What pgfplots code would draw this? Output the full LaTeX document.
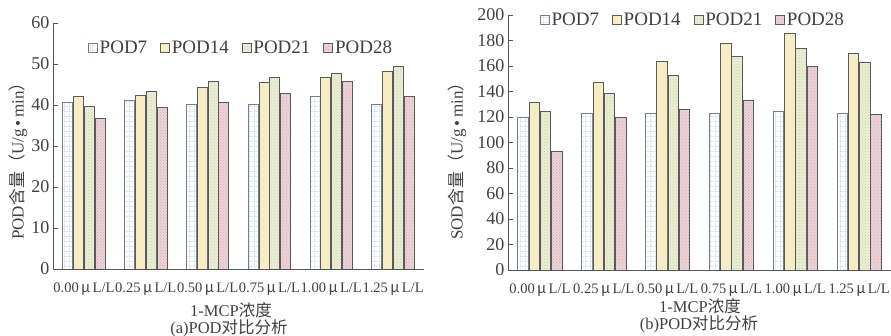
\documentclass[border=0pt]{standalone}
\usepackage{fontspec}
\setmainfont{Liberation Serif}
\newfontfamily\cjk{Noto Sans CJK SC}
\usepackage{pgfplots}
\usepackage{pgfplotstable}
\pgfplotsset{compat=1.18}
\usetikzlibrary{patterns}

\pgfdeclarepatternformonly[\gridstep]{biggrid}{\pgfpointorigin}{\pgfpoint{\gridstep}{\gridstep}}{\pgfpoint{\gridstep}{\gridstep}}{%
  \pgfsetlinewidth{0.7pt}%
  \pgfpathmoveto{\pgfpoint{0pt}{0pt}}\pgfpathlineto{\pgfpoint{\gridstep}{0pt}}%
  \pgfpathmoveto{\pgfpoint{0pt}{0pt}}\pgfpathlineto{\pgfpoint{0pt}{\gridstep}}%
  \pgfusepath{stroke}}
\def\gridstep{4.6pt}

\definecolor{txt}{HTML}{404040}
\definecolor{axc}{HTML}{555555}
\definecolor{outl}{HTML}{5A5A5A}
\definecolor{b7}{HTML}{A9BFE3}
\definecolor{o7}{HTML}{6F7F9A}
\definecolor{f14}{HTML}{F6EDC4}
\definecolor{f21}{HTML}{ECEFD6}
\definecolor{p21}{HTML}{C9D0A8}
\definecolor{f28}{HTML}{EDD3D8}
\definecolor{p28}{HTML}{D6AEB6}

\pgfplotstableread{
x p7 p14 p21 p28
0 40.7 42.0 39.7 36.7
1 41.0 42.3 43.2 39.3
2 40.1 44.4 45.7 40.6
3 40.1 45.4 46.7 42.9
4 42.0 46.8 47.8 45.8
5 40.2 48.3 49.4 42.0
}\podA

\pgfplotstableread{
x p7 p14 p21 p28
0 120.0 131.2 124.4 93.0
1 122.6 147.2 138.3 119.7
2 122.9 163.7 152.4 126.3
3 122.6 177.8 167.6 133.1
4 124.4 185.9 173.6 159.5
5 122.9 170.2 163.1 121.8
}\podB

\pgfplotsset{
  common/.style={
    scale only axis,
    anchor=south west,
    ybar,
    axis lines=left,
    axis line style={draw=axc, line width=0.8pt, -},
    tick style={draw=axc, line width=0.8pt},
    major tick length=5pt,
    tick align=inside,
    xmin=-0.5, xmax=5.5,
    ymin=0,
    /pgf/number format/assume math mode=true,
    xtick={0,1,2,3,4,5},
    x tick style={draw=none},
    extra x ticks={0.5,1.5,2.5,3.5,4.5,5.5},
    extra x tick labels={},
    extra x tick style={tick style={draw=axc, line width=0.8pt}},
    xticklabels={0.00\,{\cjk μ}\,L/L,0.25\,{\cjk μ}\,L/L,0.50\,{\cjk μ}\,L/L,0.75\,{\cjk μ}\,L/L,1.00\,{\cjk μ}\,L/L,1.25\,{\cjk μ}\,L/L},
    xticklabel style={font=\fontsize{14.5}{14.5}\selectfont, text=txt, yshift=-10pt},
    yticklabel style={font=\fontsize{18}{18}\selectfont, text=txt},
    ylabel style={font=\fontsize{17}{17}\selectfont, text=txt},
    legend style={draw=none, fill=none, font=\fontsize{19}{19}\selectfont, text=txt,
      legend columns=4, /tikz/every even column/.append style={column sep=11pt},
      anchor=center},
    legend image code/.code={\draw[#1, line width=0.6pt] (0pt,-4pt) rectangle (9pt,5pt);},
  },
  s7/.style={draw=o7, line width=0.8pt, fill=white, postaction={pattern=biggrid, pattern color=b7}},
  s14/.style={draw=outl, line width=0.8pt, fill=f14},
  s21/.style={draw=outl, line width=0.8pt, fill=f21, postaction={pattern=crosshatch dots, pattern color=p21}},
  s28/.style={draw=outl, line width=0.8pt, fill=f28, postaction={pattern=crosshatch dots, pattern color=p28}},
}

\begin{document}
\begin{tikzpicture}
\useasboundingbox (0pt,0pt) rectangle (891pt,336pt);
\begin{axis}[common,
  at={(53pt,67pt)}, width=371pt, height=246pt,
  ymax=60, ytick={0,10,...,60},
  bar width=10pt,
  ylabel={POD{\cjk 含量（}U/g\,•\,min{\cjk ）}},
  ylabel style={at={(axis description cs:-0.094,0.455)}, anchor=center},
  legend style={at={(axis description cs:0.507,0.898)}},
]
\addplot[s7, bar shift=-16.2pt] table[x=x,y=p7]{\podA};
\addplot[s14, bar shift=-5.4pt] table[x=x,y=p14]{\podA};
\addplot[s21, bar shift=5.4pt] table[x=x,y=p21]{\podA};
\addplot[s28, bar shift=16.2pt] table[x=x,y=p28]{\podA};
\legend{POD7,POD14,POD21,POD28}
\end{axis}

\begin{axis}[common,
  at={(508pt,66pt)}, width=383pt, height=255pt,
  ymax=200, ytick={0,20,...,200},
  bar width=10.5pt,
  ylabel={SOD{\cjk 含量（}U/g\,•\,min{\cjk ）}},
  ylabel style={at={(axis description cs:-0.133,0.443)}, anchor=center},
  legend style={at={(axis description cs:0.483,0.98)}},
]
\addplot[s7, bar shift=-16.9pt] table[x=x,y=p7]{\podB};
\addplot[s14, bar shift=-5.6pt] table[x=x,y=p14]{\podB};
\addplot[s21, bar shift=5.6pt] table[x=x,y=p21]{\podB};
\addplot[s28, bar shift=16.9pt] table[x=x,y=p28]{\podB};
\legend{POD7,POD14,POD21,POD28}
\end{axis}

\node[text=txt, font=\fontsize{16.5}{16.5}\selectfont] at (231pt,26pt) {1-MCP{\cjk 浓度}};
\node[text=txt, font=\fontsize{16.5}{16.5}\selectfont] at (229pt,8pt) {(a)POD{\cjk 对比分析}};
\node[text=txt, font=\fontsize{16.5}{16.5}\selectfont] at (700pt,30pt) {1-MCP{\cjk 浓度}};
\node[text=txt, font=\fontsize{16.5}{16.5}\selectfont] at (699pt,12pt) {(b)POD{\cjk 对比分析}};
\end{tikzpicture}
\end{document}
